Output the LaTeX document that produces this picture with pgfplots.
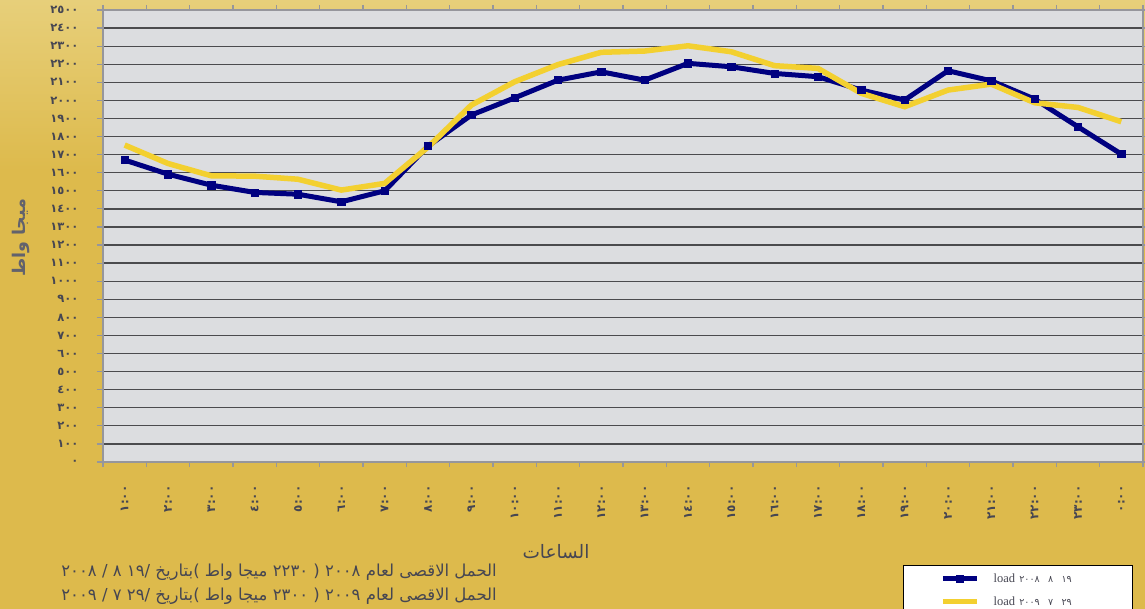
\documentclass[border=0pt]{standalone}
\usepackage{fontspec}
\usepackage{pgfplots}
\pgfplotsset{compat=1.18}
\setmainfont{Liberation Serif}
\newfontfamily\arabicfont[Script=Arabic]{DejaVu Sans}
\newfontfamily\digfont{DejaVu Sans}
\TeXXeTstate=1
\definecolor{navyc}{RGB}{0,0,128}
\definecolor{yellowc}{RGB}{243,208,48}
\definecolor{plotbg}{RGB}{220,221,224}
\definecolor{bgtop}{RGB}{231,207,122}
\definecolor{bgbot}{RGB}{221,186,76}
\definecolor{txtg}{RGB}{70,70,82}
\definecolor{gridc}{RGB}{75,75,78}
\definecolor{framec}{RGB}{150,150,156}
\begin{document}
\begin{tikzpicture}[x=1pt,y=1pt]
\fill[bgbot] (0,0) rectangle (1145,-609);
\shade[top color=bgtop, bottom color=bgbot] (0,0) rectangle (1145,-170);
\begin{axis}[
  at={(103pt,-462pt)}, anchor=south west,
  scale only axis, width=1040pt, height=452pt,
  xmin=-0.5, xmax=23.5, ymin=0, ymax=2500,
  axis background/.style={fill=plotbg},
  axis line style={draw=framec, line width=2.2pt},
  ytick={0,100,...,2500},
  yticklabels={٠,١٠٠,٢٠٠,٣٠٠,٤٠٠,٥٠٠,٦٠٠,٧٠٠,٨٠٠,٩٠٠,١٠٠٠,١١٠٠,١٢٠٠,١٣٠٠,١٤٠٠,١٥٠٠,١٦٠٠,١٧٠٠,١٨٠٠,١٩٠٠,٢٠٠٠,٢١٠٠,٢٢٠٠,٢٣٠٠,٢٤٠٠,٢٥٠٠},
  xtick={0,...,23},
  xticklabels={١:٠٠,٢:٠٠,٣:٠٠,٤:٠٠,٥:٠٠,٦:٠٠,٧:٠٠,٨:٠٠,٩:٠٠,١٠:٠٠,١١:٠٠,١٢:٠٠,١٣:٠٠,١٤:٠٠,١٥:٠٠,١٦:٠٠,١٧:٠٠,١٨:٠٠,١٩:٠٠,٢٠:٠٠,٢١:٠٠,٢٢:٠٠,٢٣:٠٠,٠:٠٠},
  minor xtick={-0.5,0.5,...,23.5},
  every major x tick/.append style={draw=none},
  every minor x tick/.append style={draw=framec, line width=1.2pt},
  every major y tick/.append style={draw=framec, line width=1.2pt},
  tick align=outside, major tick length=6pt, minor tick length=5pt,
  x axis line style={line width=1.5pt},
  ymajorgrids, major grid style={draw=gridc, line width=1.3pt},
  yticklabel style={font=\arabicfont\bfseries\fontsize{11.5}{13}\selectfont, text=txtg, xshift=-15pt},
  xticklabel style={font=\arabicfont\bfseries\fontsize{12}{14}\selectfont, text=txtg, rotate=90, anchor=east, xshift=-14pt},
  xlabel={\arabicfont\fontsize{18.5}{21}\selectfont\beginR الساعات\endR},
  xlabel style={at={(rel axis cs:0.4356,-0.199)}, anchor=center, text=txtg},
  ylabel={\arabicfont\bfseries\fontsize{17.5}{20}\selectfont\beginR ميجا واط\endR},
  ylabel style={at={(rel axis cs:-0.0790,0.496)}, anchor=center, text=txtg!85},
  legend style={at={(rel axis cs:0.769,-0.228)}, anchor=north west, draw=black, line width=0.8pt, fill=white,
    inner xsep=37pt, inner ysep=6pt, row sep=9pt,
    font=\fontsize{12.5}{14}\selectfont, text=txtg,
    nodes={text width=112pt, align=left}},
  legend cell align=left,
  legend image code/.code={\draw[mark repeat=2,mark phase=2,#1] plot coordinates {(0pt,0pt) (17pt,0pt) (34pt,0pt)};},
]
\addplot[color=navyc, line width=5pt, mark=square*, mark size=3.6pt, mark options={solid, line width=0.5pt}] coordinates {
(0,1670) (1,1592) (2,1531) (3,1491) (4,1481) (5,1439) (6,1500) (7,1747) (8,1919) (9,2014) (10,2112) (11,2158) (12,2112) (13,2205) (14,2186) (15,2149) (16,2131) (17,2057) (18,2002) (19,2164) (20,2108) (21,2007) (22,1854) (23,1703)};
\addlegendentry{\hspace*{12pt}load {\digfont\fontsize{9.5}{11}\selectfont ٢٠٠٨\ \ ٨\ \ ١٩}}
\addplot[color=yellowc, line width=5.5pt, no marks] coordinates {
(0,1753) (1,1651) (2,1583) (3,1581) (4,1564) (5,1504) (6,1541) (7,1742) (8,1974) (9,2103) (10,2198) (11,2266) (12,2273) (13,2302) (14,2269) (15,2192) (16,2177) (17,2039) (18,1965) (19,2057) (20,2090) (21,1987) (22,1961) (23,1882)};
\addlegendentry{\hspace*{12pt}load {\digfont\fontsize{9.5}{11}\selectfont ٢٠٠٩\ \ ٧\ \ ٢٩}}
\end{axis}
\node[anchor=base east, text=txtg, inner sep=0pt, font=\arabicfont\fontsize{16.5}{18}\selectfont] at (497,-576)
  {\beginR الحمل الاقصى لعام ٢٠٠٨ ( ٢٢٣٠ ميجا واط )بتاريخ \beginL ٢٠٠٨ / ٨ /١٩\endL\endR};
\node[anchor=base east, text=txtg, inner sep=0pt, font=\arabicfont\fontsize{16.5}{18}\selectfont] at (497,-600)
  {\beginR الحمل الاقصى لعام ٢٠٠٩ ( ٢٣٠٠ ميجا واط )بتاريخ \beginL ٢٠٠٩ / ٧ /٢٩\endL\endR};
\pgfresetboundingbox
\useasboundingbox (0,0) rectangle (1145,-609);
\end{tikzpicture}
\end{document}
